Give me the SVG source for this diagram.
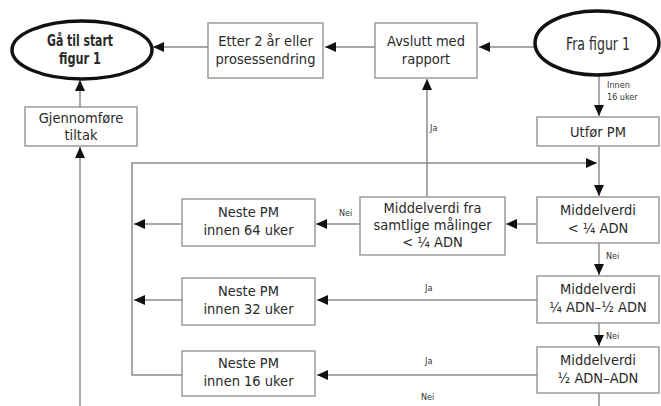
<svg xmlns="http://www.w3.org/2000/svg" width="661" height="406" viewBox="0 0 661 406">
<style>
.box{fill:#fff;stroke:#8c8c8c;stroke-width:1.3}
.ell{fill:#fff;stroke:#111;stroke-width:3.5}
.t{font-family:"Liberation Sans Narrow","DejaVu Sans Condensed",sans-serif;font-stretch:condensed;font-size:14.5px;fill:#2a2a2a;text-anchor:middle}
.b{font-weight:bold;font-size:15.5px}
.s{font-family:"Liberation Sans Narrow","DejaVu Sans Condensed",sans-serif;font-stretch:condensed;font-size:9px;fill:#333}
.c{fill:none;stroke:#8c8c8c;stroke-width:1.5}
</style>
<defs>
<marker id="ah" markerUnits="userSpaceOnUse" markerWidth="12" markerHeight="10" refX="11" refY="5" orient="auto" viewBox="0 0 12 10">
<path d="M0,0 L11,5 L0,10 Z" fill="#111"/>
</marker>
</defs>
<rect width="661" height="406" fill="#fff"/>
<g id="connectors">
<path class="c" d="M534,47 H479" marker-end="url(#ah)"/>
<path class="c" d="M375,47 H325" marker-end="url(#ah)"/>
<path class="c" d="M208,47 H153" marker-end="url(#ah)"/>
<path class="c" d="M80,107 V80" marker-end="url(#ah)"/>
<path class="c" d="M80,406 V147" marker-end="url(#ah)"/>
<path class="c" d="M599,75 V116" marker-end="url(#ah)"/>
<path class="c" d="M599,146 V196" marker-end="url(#ah)"/>
<path class="c" d="M182,375 H132 V163 H597" marker-end="url(#ah)"/>
<path class="c" d="M182,224 H134" marker-end="url(#ah)"/>
<path class="c" d="M182,300 H134" marker-end="url(#ah)"/>
<path class="c" d="M537,224 H506" marker-end="url(#ah)"/>
<path class="c" d="M360,224 H316" marker-end="url(#ah)"/>
<path class="c" d="M427,197 V79" marker-end="url(#ah)"/>
<path class="c" d="M599,243 V275" marker-end="url(#ah)"/>
<path class="c" d="M537,300 H317" marker-end="url(#ah)"/>
<path class="c" d="M599,323 V346" marker-end="url(#ah)"/>
<path class="c" d="M537,375 H317" marker-end="url(#ah)"/>
<path class="c" d="M599,393 V406"/>
<text class="s" x="607" y="88">Innen</text>
<text class="s" x="607" y="100">16 uker</text>
<text class="s" x="430" y="131">Ja</text>
<text class="s" x="339" y="216">Nei</text>
<text class="s" x="606" y="259">Nei</text>
<text class="s" x="425" y="291">Ja</text>
<text class="s" x="606" y="339">Nei</text>
<text class="s" x="425" y="364">Ja</text>
<text class="s" x="421" y="400">Nei</text>
</g>
<g id="gaa-til-start">
<ellipse class="ell" cx="82" cy="50" rx="70" ry="29"/>
<text class="t b" x="80" y="46" textLength="66" lengthAdjust="spacingAndGlyphs">Gå til start</text>
<text class="t b" x="80" y="64" textLength="42" lengthAdjust="spacingAndGlyphs">figur 1</text>
</g>
<g id="etter">
<rect class="box" x="208" y="23" width="115" height="55"/>
<text class="t" x="265.5" y="46">Etter 2 år eller</text>
<text class="t" x="265.5" y="64">prosessendring</text>
</g>
<g id="avslutt">
<rect class="box" x="375" y="23" width="102" height="55"/>
<text class="t" x="426" y="46">Avslutt med</text>
<text class="t" x="426" y="64">rapport</text>
</g>
<g id="fra-figur">
<ellipse class="ell" cx="597" cy="43" rx="62" ry="32"/>
<text class="t" x="598" y="50" style="font-size:17px" textLength="64" lengthAdjust="spacingAndGlyphs">Fra figur 1</text>
</g>
<g id="gjennomfore">
<rect class="box" x="25" y="107" width="112" height="39"/>
<text class="t" x="81" y="123">Gjennomføre</text>
<text class="t" x="81" y="140">tiltak</text>
</g>
<g id="utfor">
<rect class="box" x="537" y="117" width="122" height="29"/>
<text class="t" x="598" y="137">Utfør PM</text>
</g>
<g id="samtlige">
<rect class="box" x="360" y="197" width="145" height="58"/>
<text class="t" x="432.5" y="213">Middelverdi fra</text>
<text class="t" x="432.5" y="230">samtlige målinger</text>
<text class="t" x="432.5" y="247">&lt; ¼ ADN</text>
</g>
<g id="mv-kvart">
<rect class="box" x="537" y="197" width="122" height="46"/>
<text class="t" x="598" y="215">Middelverdi</text>
<text class="t" x="598" y="233">&lt; ¼ ADN</text>
</g>
<g id="neste-64">
<rect class="box" x="182" y="199" width="133" height="47"/>
<text class="t" x="248.5" y="217">Neste PM</text>
<text class="t" x="248.5" y="235">innen 64 uker</text>
</g>
<g id="mv-kvart-halv">
<rect class="box" x="537" y="276" width="122" height="47"/>
<text class="t" x="598" y="294">Middelverdi</text>
<text class="t" x="598" y="312">¼ ADN–½ ADN</text>
</g>
<g id="neste-32">
<rect class="box" x="182" y="278" width="133" height="47"/>
<text class="t" x="248.5" y="296">Neste PM</text>
<text class="t" x="248.5" y="314">innen 32 uker</text>
</g>
<g id="mv-halv-adn">
<rect class="box" x="537" y="347" width="122" height="46"/>
<text class="t" x="598" y="365">Middelverdi</text>
<text class="t" x="598" y="383">½ ADN–ADN</text>
</g>
<g id="neste-16">
<rect class="box" x="182" y="351" width="133" height="45"/>
<text class="t" x="248.5" y="368">Neste PM</text>
<text class="t" x="248.5" y="386">innen 16 uker</text>
</g>
</svg>
